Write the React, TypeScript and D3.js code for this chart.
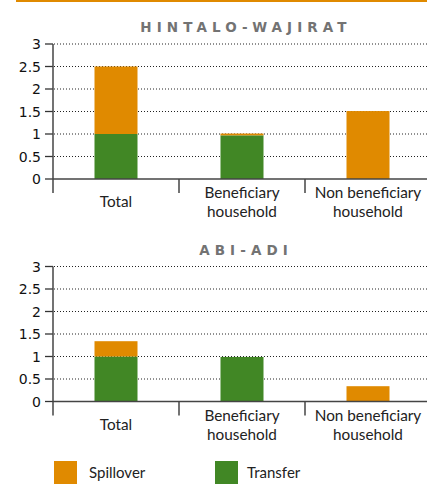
import React from "react";
import * as d3 from "d3";

const categories = ["Total", "Beneficiary household", "Non beneficiary household"];
const categoryLines = [["Total"], ["Beneficiary", "household"], ["Non beneficiary", "household"]];
const yTicks = [0, 0.5, 1, 1.5, 2, 2.5, 3];

const hintaloTransfer = [1.0, 0.97, 0];
const hintaloSpillover = [1.5, 0.04, 1.51];
const abiTransfer = [1.0, 0.99, 0];
const abiSpillover = [0.34, 0, 0.34];

const ORANGE = "#E08A00";
const GREEN = "#418725";

const W = 427;
const H = 495;

function Panel({ title, transfer, spillover, top }: { title: string; transfer: number[]; spillover: number[]; top: number }) {
  const y0 = top + 135;
  const y = d3.scaleLinear().domain([0, 3]).range([y0, top]);
  const x = d3.scaleBand().domain(categories).range([53, 431]).paddingInner(0).paddingOuter(0);
  const barW = 43;
  return (
    <g>
      <text x={246} y={top - 12} textAnchor="middle" fontFamily="'DejaVu Sans', sans-serif" fontWeight="bold" fontSize={13.5} letterSpacing={5.1} fill="#737373">{title}</text>
      {yTicks.map((t) => (
        <g key={t}>
          {t > 0 && <line x1={54} x2={W} y1={y(t)} y2={y(t)} stroke="#222" strokeWidth={1} strokeDasharray="1,2" />}
          <line x1={45} x2={53} y1={y(t)} y2={y(t)} stroke="#333" strokeWidth={1.3} />
          <text x={41} y={y(t) + 5} textAnchor="end" fontFamily="'DejaVu Sans', sans-serif" fontSize={14} fill="#111">{String(t)}</text>
        </g>
      ))}
      {categories.map((c, i) => {
        const cx = (x(c) as number) + x.bandwidth() / 2;
        const bx = cx - barW / 2;
        return (
          <g key={c}>
            {transfer[i] > 0 && (
              <rect x={bx} y={y(transfer[i])} width={barW} height={y(0) - y(transfer[i])} fill={GREEN} />
            )}
            {spillover[i] > 0 && (
              <rect x={bx} y={y(transfer[i] + spillover[i])} width={barW} height={y(transfer[i]) - y(transfer[i] + spillover[i])} fill={ORANGE} />
            )}
          </g>
        );
      })}
      <line x1={53} x2={W} y1={y0} y2={y0} stroke="#444" strokeWidth={1.5} />
      <line x1={53} x2={53} y1={top} y2={y0 + 14} stroke="#444" strokeWidth={1.5} />
      {categories.slice(1).map((c) => (
        <line key={c} x1={x(c) as number} x2={x(c) as number} y1={y0} y2={y0 + 14} stroke="#444" strokeWidth={1.5} />
      ))}
      {categories.map((c, i) => {
        const cx = (x(c) as number) + x.bandwidth() / 2;
        const lines = categoryLines[i];
        return (
          <text key={c} textAnchor="middle" fontFamily="Lato, sans-serif" fontSize={15.3} fill="#222">
            {lines.map((l, j) => (
              <tspan key={j} x={cx} y={lines.length === 1 ? y0 + 28 : y0 + 19 + j * 19}>{l}</tspan>
            ))}
          </text>
        );
      })}
    </g>
  );
}

export default function App() {
  return (
    <svg width={W} height={H} style={{ position: "absolute", left: 0, top: 0, background: "#fff" }}>
      <line x1={16} x2={W} y1={1} y2={1} stroke={ORANGE} strokeWidth={2} />
      <Panel title="HINTALO-WAJIRAT" transfer={hintaloTransfer} spillover={hintaloSpillover} top={44} />
      <Panel title="ABI-ADI" transfer={abiTransfer} spillover={abiSpillover} top={266.5} />
      <rect x={54} y={461} width={23} height={23} fill={ORANGE} />
      <text x={89} y={478} fontFamily="Lato, sans-serif" fontSize={15} fill="#222">Spillover</text>
      <rect x={215} y={461} width={23} height={23} fill={GREEN} />
      <text x={247} y={478} fontFamily="Lato, sans-serif" fontSize={15} fill="#222">Transfer</text>
    </svg>
  );
}
